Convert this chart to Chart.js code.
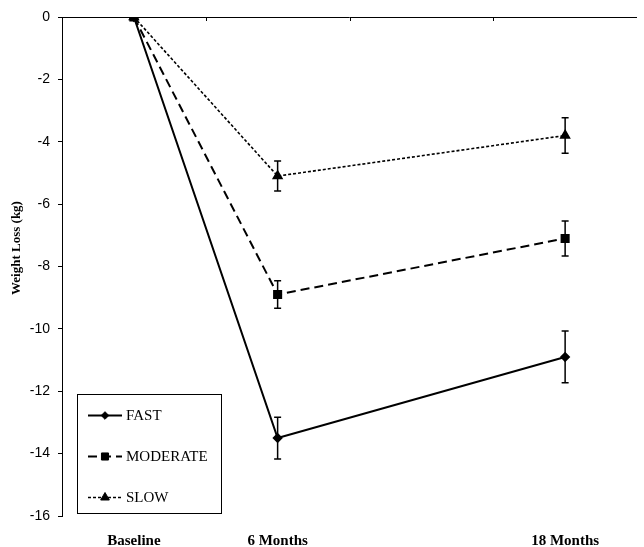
<!DOCTYPE html>
<html>
<head>
<meta charset="utf-8">
<script src="https://cdn.jsdelivr.net/npm/chart.js@4.4.1/dist/chart.umd.min.js"></script>
<style>
  body { margin: 0; background: #fff; }
</style>
</head>
<body>
<canvas id="mycanvas" width="644" height="547"></canvas>
<script>
// categories (12 months is an empty slot on the axis, like the original sheet)
var categories = ["Baseline", "6 Months", "", "18 Months"];
var seriesNames = ["FAST", "MODERATE", "SLOW"];

// mean weight change (kg)
var fast = [0, -13.5, null, -10.9];
var moderate = [0, -8.9, null, -7.1];
var slow = [0, -5.1, null, -3.8];

// error bar half widths (kg)
var fastErr = [0, 0.67, null, 0.83];
var moderateErr = [0, 0.44, null, 0.56];
var slowErr = [0, 0.48, null, 0.57];

var yTicks = [0, -2, -4, -6, -8, -10, -12, -14, -16];
var yTitle = "Weight Loss (kg)";

var serif = "'Liberation Serif', 'Times New Roman', serif";
var sans = "'Liberation Sans', Arial, sans-serif";

var extras = {
    id: 'extras',
    afterDatasetsDraw: function(chart) {
        var ctx = chart.ctx;
        var y = chart.scales.y;
        ctx.save();
        ctx.strokeStyle = '#000';
        ctx.lineWidth = 1.5;
        chart.data.datasets.forEach(function(ds, di) {
            var meta = chart.getDatasetMeta(di);
            ds.errors.forEach(function(e, i) {
                if (e === null || !e || ds.data[i] === null) return;
                var px = meta.data[i].x;
                var top = y.getPixelForValue(ds.data[i] + e);
                var bot = y.getPixelForValue(ds.data[i] - e);
                ctx.beginPath();
                ctx.moveTo(px, top); ctx.lineTo(px, bot);
                ctx.moveTo(px - 3.5, top); ctx.lineTo(px + 3.5, top);
                ctx.moveTo(px - 3.5, bot); ctx.lineTo(px + 3.5, bot);
                ctx.stroke();
            });
        });
        ctx.restore();
    },
    afterDraw: function(chart) {
        var ctx = chart.ctx;
        var a = chart.chartArea;
        ctx.save();
        // top axis line at y = 0 with inward tick marks
        ctx.strokeStyle = '#000';
        ctx.lineWidth = 1;
        ctx.beginPath();
        ctx.moveTo(a.left, a.top + 0.5);
        ctx.lineTo(a.right, a.top + 0.5);
        var n = categories.length;
        for (var i = 1; i < n; i++) {
            var tx = Math.round(a.left + i * (a.right - a.left) / n) + 0.5;
            ctx.moveTo(tx, a.top);
            ctx.lineTo(tx, a.top + 4);
        }
        ctx.stroke();

        // y title
        ctx.fillStyle = '#000';
        ctx.font = 'bold 13px ' + serif;
        ctx.textAlign = 'center';
        ctx.textBaseline = 'middle';
        ctx.translate(17, 248);
        ctx.rotate(-Math.PI / 2);
        ctx.fillText(yTitle, 0, 0);
        ctx.setTransform(1, 0, 0, 1, 0, 0);

        // legend box
        ctx.fillStyle = '#fff';
        ctx.fillRect(77.5, 394.5, 144, 119);
        ctx.strokeRect(77.5, 394.5, 144, 119);
        chart.data.datasets.forEach(function(ds, di) {
            var ly = 415 + di * 41;
            ctx.strokeStyle = '#000';
            ctx.lineWidth = ds.borderWidth;
            ctx.setLineDash(ds.borderDash);
            ctx.beginPath();
            ctx.moveTo(88, ly + 0.5);
            ctx.lineTo(122, ly + 0.5);
            ctx.stroke();
            ctx.setLineDash([]);
            ctx.fillStyle = '#000';
            ctx.lineWidth = 1;
            Chart.helpers.drawPoint(ctx, {pointStyle: ds.pointStyle, radius: ds.pointRadius, rotation: 0, borderWidth: 1}, 105, ly + 0.5);
            ctx.font = '15px ' + serif;
            ctx.textAlign = 'left';
            ctx.textBaseline = 'middle';
            ctx.fillText(ds.label, 126, ly + 1);
        });
        ctx.restore();
    }
};

var chartdata = {
    labels: categories,
    datasets: [{
        label: seriesNames[0],
        data: fast,
        errors: fastErr,
        borderColor: '#000',
        backgroundColor: '#000',
        borderWidth: 2,
        borderDash: [],
        pointStyle: 'rectRot',
        pointRadius: 3.8
    }, {
        label: seriesNames[1],
        data: moderate,
        errors: moderateErr,
        borderColor: '#000',
        backgroundColor: '#000',
        borderWidth: 2,
        borderDash: [9, 5],
        pointStyle: 'rect',
        pointRadius: 5
    }, {
        label: seriesNames[2],
        data: slow,
        errors: slowErr,
        borderColor: '#000',
        backgroundColor: '#000',
        borderWidth: 1.6,
        borderDash: [3, 2],
        pointStyle: 'triangle',
        pointRadius: 5
    }]
};

var ctx = document.getElementById('mycanvas');
var lineGraph = new Chart(ctx, {
    type: 'line',
    data: chartdata,
    plugins: [extras],
    options: {
        responsive: false,
        animation: false,
        spanGaps: true,
        layout: { padding: { top: 17, left: 0, right: 0, bottom: 0 } },
        elements: { line: { tension: 0 }, point: { borderWidth: 1, hoverRadius: 5 } },
        plugins: { legend: { display: false }, tooltip: { enabled: false } },
        scales: {
            x: {
                type: 'category',
                offset: true,
                grid: { display: false },
                border: { display: false },
                ticks: {
                    color: '#000',
                    font: { family: serif, size: 15, weight: 'bold' },
                    padding: 8,
                    maxRotation: 0,
                    autoSkip: false
                },
                afterFit: function(scale) { scale.height = 31; }
            },
            y: {
                min: -16,
                max: 0,
                afterBuildTicks: function(scale) {
                    scale.ticks = yTicks.map(function(v) { return { value: v }; });
                },
                grid: { drawOnChartArea: false, tickLength: 4, color: '#000' },
                border: { color: '#000', width: 1 },
                ticks: {
                    color: '#000',
                    font: { family: sans, size: 14 },
                    padding: 8
                },
                afterFit: function(scale) { scale.width = 62; }
            }
        }
    }
});
</script>
</body>
</html>
